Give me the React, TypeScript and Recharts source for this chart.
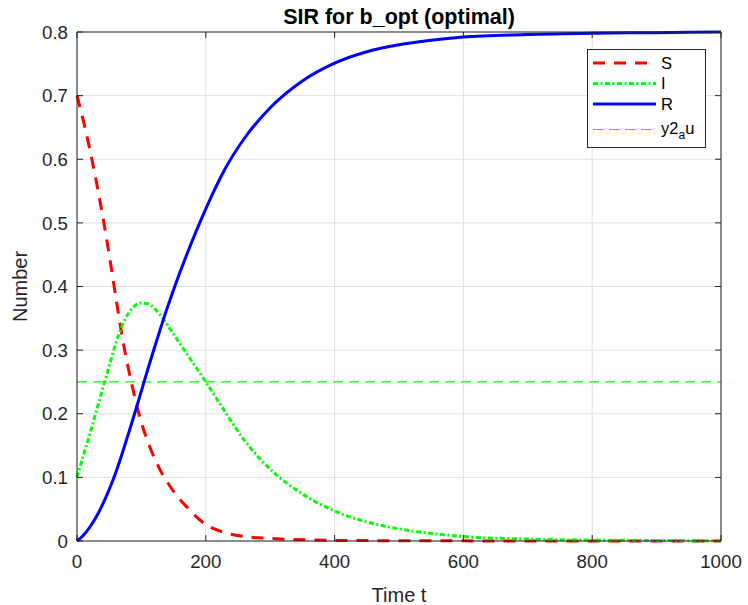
import {
  LineChart, Line, XAxis, YAxis, CartesianGrid, ReferenceLine, Legend,
} from "recharts";

const tValues = [0, 10, 20, 30, 40, 50, 60, 70, 80, 90, 100, 110, 120, 130, 140, 150, 170, 200, 230, 260, 300, 350, 400, 450, 500, 550, 600, 700, 800, 900, 1000];
const sValues = [0.7, 0.66, 0.615, 0.565, 0.51, 0.45, 0.385, 0.322, 0.27, 0.225, 0.186, 0.156, 0.131, 0.11, 0.093, 0.078, 0.054, 0.026, 0.013, 0.007, 0.004, 0.002, 0.001, 0.0006, 0.0004, 0.0003, 0.0002, 0.0001, 0, 0, 0];
const iValues = [0.1, 0.135, 0.168, 0.204, 0.24, 0.275, 0.31, 0.338, 0.358, 0.37, 0.374, 0.373, 0.366, 0.354, 0.34, 0.325, 0.295, 0.25, 0.203, 0.158, 0.113, 0.074, 0.047, 0.03, 0.019, 0.012, 0.007, 0.003, 0.0015, 0.0008, 0.0004];
const rValues = [0, 0.009, 0.022, 0.038, 0.058, 0.081, 0.107, 0.137, 0.169, 0.202, 0.236, 0.27, 0.303, 0.335, 0.366, 0.395, 0.449, 0.522, 0.585, 0.633, 0.681, 0.723, 0.751, 0.769, 0.78, 0.787, 0.792, 0.796, 0.798, 0.799, 0.8];
const y2au = 0.25;

const xTicks = [0, 200, 400, 600, 800, 1000];
const yTicks = [0, 0.1, 0.2, 0.3, 0.4, 0.5, 0.6, 0.7, 0.8];

const data = tValues.map((t, i) => ({ t, S: sValues[i], I: iValues[i], R: rValues[i] }));

const AXIS = "#262626";
const FONT = 18.7;

// MATLAB-style ticks point inward, so the tick marks are drawn by hand
function BottomTick({ x, y, payload }: any) {
  return (
    <g>
      <line x1={x} x2={x} y1={y - 14} y2={y - 20} stroke={AXIS} />
      <text x={x} y={y} dy="0.71em" textAnchor="middle" fill={AXIS} fontSize={FONT}>{payload.value}</text>
    </g>
  );
}

function LeftTick({ x, y, payload }: any) {
  return (
    <g>
      <line x1={x + 9} x2={x + 15} y1={y} y2={y} stroke={AXIS} />
      <text x={x} y={y} dy="0.355em" textAnchor="end" fill={AXIS} fontSize={FONT}>{payload.value}</text>
    </g>
  );
}

function TopTick({ x, y }: any) {
  return <line x1={x} x2={x} y1={y} y2={y + 6} stroke={AXIS} />;
}

function RightTick({ x, y }: any) {
  return <line x1={x} x2={x - 6} y1={y} y2={y} stroke={AXIS} />;
}

function LegendBox() {
  const rows = [
    { label: "S", color: "#ff0000", dash: "12 9", y: 14 },
    { label: "I", color: "#00ff00", dash: "5 2.5 2 2.5", y: 34.5 },
    { label: "R", color: "#0000ff", dash: undefined, y: 55 },
  ];
  return (
    <svg width={119} height={99} style={{ display: "block" }}>
      <rect x={0.5} y={0.5} width={118} height={98} fill="#fff" stroke={AXIS} />
      {rows.map((r) => (
        <g key={r.label}>
          <line x1={6} x2={69} y1={r.y} y2={r.y} stroke={r.color} strokeWidth={3} strokeDasharray={r.dash} />
          <text x={74} y={r.y} dy="0.36em" fontSize={16.5} fill="#000">{r.label}</text>
        </g>
      ))}
      <line x1={6} x2={69} y1={80.5} y2={80.5} stroke="#00ff00" strokeWidth={1} strokeDasharray="10 6" />
      <text x={74} y={84.5} fontSize={16.5} fill="#000">
        y2<tspan dy={5} fontSize={12}>a</tspan><tspan dy={-5}>u</tspan>
      </text>
    </svg>
  );
}

export default function App() {
  return (
    <div style={{ position: "absolute", left: 0, top: 0, fontFamily: "'Liberation Sans', Arial, sans-serif", background: "#fff" }}>
      <LineChart width={748} height={605} data={data} margin={{ top: 0, right: 0, left: 0, bottom: 0 }}>
        <CartesianGrid stroke="#e0e0e0" strokeWidth={1} />
        <XAxis
          dataKey="t" type="number" domain={[0, 1000]} ticks={xTicks} height={64}
          stroke={AXIS} tickLine={false} tickSize={0} tickMargin={14} tick={<BottomTick />}
          label={{ value: "Time t", position: "insideBottom", offset: 3, fontSize: 20, fill: AXIS }}
        />
        <XAxis
          xAxisId="top" orientation="top" dataKey="t" type="number" domain={[0, 1000]} ticks={xTicks} height={32}
          allowDataOverflow stroke={AXIS} tickLine={false} tickSize={0} tickMargin={0} tick={<TopTick />}
          label={{ value: "SIR for b_opt (optimal)", position: "center", fontSize: 21.5, fontWeight: "bold", fill: "#000" }}
        />
        <YAxis
          type="number" domain={[0, 0.8]} ticks={yTicks} width={77}
          stroke={AXIS} tickLine={false} tickSize={0} tickMargin={9} tick={<LeftTick />}
          label={{ value: "Number", angle: -90, position: "center", dx: -18.5, fontSize: 20, fill: AXIS }}
        />
        <YAxis
          yAxisId="right" orientation="right" type="number" domain={[0, 0.8]} ticks={yTicks} width={27}
          allowDataOverflow stroke={AXIS} tickLine={false} tickSize={0} tickMargin={0} tick={<RightTick />}
        />
        <ReferenceLine y={y2au} stroke="#00ff00" strokeWidth={1.2} strokeDasharray="10 6" />
        <Line dataKey="S" type="monotone" stroke="#ff0000" strokeWidth={3} strokeDasharray="12 9" dot={false} activeDot={false} isAnimationActive={false} />
        <Line dataKey="I" type="monotone" stroke="#00ff00" strokeWidth={3} strokeDasharray="5 2.5 2 2.5" dot={false} activeDot={false} isAnimationActive={false} />
        <Line dataKey="R" type="monotone" stroke="#0000ff" strokeWidth={3} dot={false} activeDot={false} isAnimationActive={false} />
        <Legend
          layout="vertical" align="center" verticalAlign="middle"
          wrapperStyle={{ left: 587, top: 49, width: 119, height: 99 }}
          content={() => <LegendBox />}
        />
      </LineChart>
    </div>
  );
}
